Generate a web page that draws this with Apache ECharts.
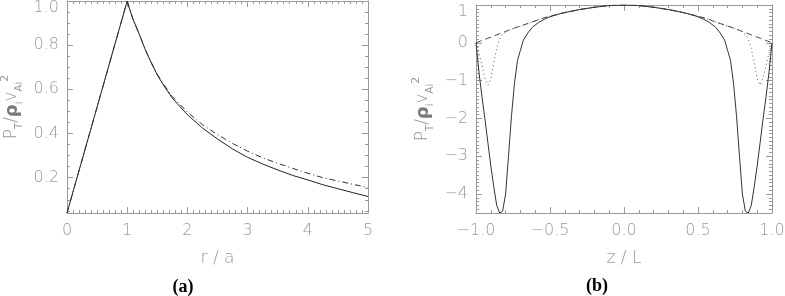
<!DOCTYPE html>
<html>
<head>
<meta charset="utf-8">
<script src="https://cdn.jsdelivr.net/npm/echarts@6/dist/echarts.min.js"></script>
<style>
html, body { margin: 0; padding: 0; background: #fff; }
#main { width: 785px; height: 296px; }
</style>
</head>
<body>
<div id="main"></div>
<script>
// ---- panel (a): P_T vs r/a ----
var rA = [0, 1, 1.05, 1.1, 1.2, 1.3, 1.4, 1.5, 1.6, 1.75, 2, 2.25, 2.5, 2.75, 3, 3.25, 3.5, 3.75, 4, 4.25, 4.5, 4.75, 5];
var solidA = [0.04, 1.0, 0.955, 0.915, 0.85, 0.78, 0.72, 0.665, 0.62, 0.56, 0.485, 0.425, 0.375, 0.33, 0.292, 0.262, 0.235, 0.21, 0.19, 0.168, 0.15, 0.132, 0.115];
var dashDotA = [0.04, 1.0, 0.955, 0.915, 0.85, 0.78, 0.721, 0.668, 0.625, 0.567, 0.497, 0.44, 0.395, 0.355, 0.32, 0.29, 0.265, 0.242, 0.22, 0.2, 0.185, 0.17, 0.155];
var yTicksA = [0.2, 0.4, 0.6, 0.8, 1.0];

// ---- panel (b): P_T vs z/L ----
var zB = [-1, -0.99, -0.98, -0.96, -0.94, -0.92, -0.9, -0.88, -0.86, -0.84, -0.82, -0.8, -0.78, -0.76, -0.74, -0.72, -0.7, -0.68, -0.65, -0.62, -0.58, -0.54, -0.5, -0.45, -0.4, -0.3, -0.2, -0.1, 0,
          0.1, 0.2, 0.3, 0.4, 0.45, 0.5, 0.54, 0.58, 0.62, 0.65, 0.68, 0.7, 0.72, 0.74, 0.76, 0.78, 0.8, 0.82, 0.84, 0.86, 0.88, 0.9, 0.92, 0.94, 0.96, 0.98, 0.99, 1];
var solidB = [0, -0.38, -0.77, -1.42, -2.0, -2.63, -3.25, -3.8, -4.3, -4.5, -4.45, -4.0, -2.98, -1.92, -1.07, -0.47, -0.2, 0.07, 0.26, 0.41, 0.53, 0.62, 0.69, 0.75, 0.8, 0.88, 0.94, 0.985, 1.0,
              0.985, 0.94, 0.88, 0.8, 0.75, 0.69, 0.62, 0.53, 0.41, 0.26, 0.07, -0.2, -0.47, -1.07, -1.92, -2.98, -4.0, -4.45, -4.5, -4.3, -3.8, -3.25, -2.63, -2.0, -1.42, -0.77, -0.38, 0];
var dottedB = [0, -0.13, -0.27, -0.59, -0.92, -1.12, -0.95, -0.52, -0.15, 0.1, 0.22, 0.28, 0.33, 0.36, 0.39, 0.42, 0.44, 0.47, 0.51, 0.55, 0.61, 0.66, 0.7, 0.75, 0.8, 0.88, 0.94, 0.985, 1.0,
               0.985, 0.94, 0.88, 0.8, 0.75, 0.7, 0.66, 0.61, 0.55, 0.51, 0.47, 0.44, 0.42, 0.39, 0.36, 0.33, 0.28, 0.22, 0.1, -0.15, -0.52, -0.95, -1.12, -0.92, -0.59, -0.27, -0.13, 0];
var dashedB = [0, 0.015, 0.03, 0.06, 0.09, 0.12, 0.15, 0.18, 0.21, 0.24, 0.27, 0.3, 0.33, 0.36, 0.39, 0.42, 0.44, 0.47, 0.51, 0.55, 0.61, 0.66, 0.7, 0.75, 0.8, 0.88, 0.94, 0.985, 1.0,
               0.985, 0.94, 0.88, 0.8, 0.75, 0.7, 0.66, 0.61, 0.55, 0.51, 0.47, 0.44, 0.42, 0.39, 0.36, 0.33, 0.3, 0.27, 0.24, 0.21, 0.18, 0.15, 0.12, 0.09, 0.06, 0.03, 0.015, 0];
var yTicksB = [1, 0, -1, -2, -3, -4];

function pairs(xs, ys) {
    var out = [];
    for (var i = 0; i < xs.length; i++) out.push([xs[i], ys[i]]);
    return out;
}

// minor tick positions (not data, just the frame)
var yMinorA = [];
for (var i = 1; i <= 19; i++) { if (i % 4 != 0) yMinorA.push(i * 5 / 100); }
var yMinorB = [];
for (var j = -45; j <= 10; j++) { if (j % 10 != 0) yMinorB.push(j / 10); }

var frameColor = '#9a9a9a';
var textColor = '#999999';
var font = 'DejaVu Sans';

function fmtMinus(s) { return String(s).replace('-', '\u2212'); }

function xAxisDef(grid, pos, min, max, interval, split, fmt, name) {
    var show = pos == 'bottom';
    return {
        type: 'value', gridIndex: grid, position: pos, min: min, max: max, interval: interval,
        axisLine: { onZero: false, lineStyle: { color: frameColor, width: 1 } },
        axisTick: { inside: true, length: 6, lineStyle: { color: frameColor } },
        minorTick: { show: true, splitNumber: split, length: 3, lineStyle: { color: frameColor } },
        splitLine: { show: false },
        axisLabel: { show: show, margin: 10, color: textColor, fontFamily: font, fontWeight: 200, fontSize: 16, formatter: fmt },
        name: show ? name : '', nameLocation: 'middle', nameGap: 37,
        nameTextStyle: { color: textColor, fontFamily: font, fontWeight: 200, fontSize: 17 }
    };
}

function yAxisDef(grid, pos, min, max, ticks, len, labels, fmt, gap) {
    return {
        type: 'value', gridIndex: grid, position: pos, min: min, max: max,
        axisLine: { show: len > 3, onZero: false, lineStyle: { color: frameColor, width: 1 } },
        axisTick: { inside: true, length: len, customValues: ticks, lineStyle: { color: frameColor } },
        splitLine: { show: false },
        axisLabel: {
            show: labels, customValues: ticks, margin: 8, color: textColor, fontFamily: font, fontWeight: 200, fontSize: 16,
            formatter: fmt,
            rich: { t: { padding: [14, 0, 0, 0], color: textColor, fontFamily: font, fontWeight: 200, fontSize: 16 } }
        },
        name: labels ? '{m|P}{s|T}{m|/}{r|\u03c1}{s|i}{m|v}{s|Ai}{p|2}' : '',
        nameLocation: 'middle', nameRotate: 90, nameGap: gap,
        nameTextStyle: {
            color: textColor, fontFamily: font, fontSize: 17,
            rich: {
                m: { fontSize: 17, lineHeight: 24, color: textColor, fontFamily: font, fontWeight: 200 },
                r: { fontSize: 18, lineHeight: 24, fontWeight: 'bold', color: '#7a7a7a', fontFamily: font },
                s: { fontSize: 10, lineHeight: 24, verticalAlign: 'bottom', color: textColor, fontFamily: font },
                p: { fontSize: 11, lineHeight: 24, verticalAlign: 'top', color: textColor, fontFamily: font }
            }
        }
    };
}

var fmtYA = function (v) { return v >= 0.99 ? '{t|1.0}' : v.toFixed(1); };
var fmtYB = function (v) { return v >= 0.99 ? '{t|1}' : fmtMinus(Math.round(v)); };
var fmtXA = function (v) { return String(v); };
var fmtXB = function (v) { return fmtMinus(v.toFixed(1)); };

var chart = echarts.init(document.getElementById('main'));
var option = {
    backgroundColor: '#ffffff',
    animation: false,
    grid: [
        { left: 67, right: 417, top: 1, bottom: 83, outerBoundsMode: 'none' },
        { left: 476, right: 13, top: 5, bottom: 83, outerBoundsMode: 'none' }
    ],
    xAxis: [
        xAxisDef(0, 'bottom', 0, 5, 1, 10, fmtXA, 'r / a'),
        xAxisDef(0, 'top', 0, 5, 1, 10, fmtXA, ''),
        xAxisDef(1, 'bottom', -1, 1, 0.5, 5, fmtXB, 'z / L'),
        xAxisDef(1, 'top', -1, 1, 0.5, 5, fmtXB, '')
    ],
    yAxis: [
        yAxisDef(0, 'left', 0.04, 1.0, yTicksA, 6, true, fmtYA, 43),
        yAxisDef(0, 'left', 0.04, 1.0, yMinorA, 3, false, fmtYA, 0),
        yAxisDef(0, 'right', 0.04, 1.0, yTicksA, 6, false, fmtYA, 0),
        yAxisDef(0, 'right', 0.04, 1.0, yMinorA, 3, false, fmtYA, 0),
        yAxisDef(1, 'left', -4.5, 1, yTicksB, 6, true, fmtYB, 41),
        yAxisDef(1, 'left', -4.5, 1, yMinorB, 3, false, fmtYB, 0),
        yAxisDef(1, 'right', -4.5, 1, yTicksB, 6, false, fmtYB, 0),
        yAxisDef(1, 'right', -4.5, 1, yMinorB, 3, false, fmtYB, 0)
    ],
    graphic: [
        { type: 'text', x: 183, y: 287, style: { text: '(a)', fontFamily: 'Liberation Serif', fontWeight: 'bold', fontSize: 18, fill: '#000', align: 'center', verticalAlign: 'middle' } },
        { type: 'text', x: 597, y: 286, style: { text: '(b)', fontFamily: 'Liberation Serif', fontWeight: 'bold', fontSize: 18, fill: '#000', align: 'center', verticalAlign: 'middle' } }
    ],
    series: [
        { type: 'line', xAxisIndex: 0, yAxisIndex: 0, data: pairs(rA, solidA), showSymbol: false, lineStyle: { color: '#222', width: 1 } },
        { type: 'line', xAxisIndex: 0, yAxisIndex: 0, data: pairs(rA, dashDotA), showSymbol: false, lineStyle: { color: '#333', width: 1, type: [6, 3, 1, 3] } },
        { type: 'line', xAxisIndex: 2, yAxisIndex: 4, data: pairs(zB, dashedB), showSymbol: false, lineStyle: { color: '#444', width: 1, type: [6, 4] } },
        { type: 'line', xAxisIndex: 2, yAxisIndex: 4, data: pairs(zB, dottedB), showSymbol: false, lineStyle: { color: '#555', width: 1, type: [1, 3] } },
        { type: 'line', xAxisIndex: 2, yAxisIndex: 4, data: pairs(zB, solidB), showSymbol: false, lineStyle: { color: '#333', width: 1 } }
    ]
};
chart.setOption(option);
</script>
</body>
</html>
